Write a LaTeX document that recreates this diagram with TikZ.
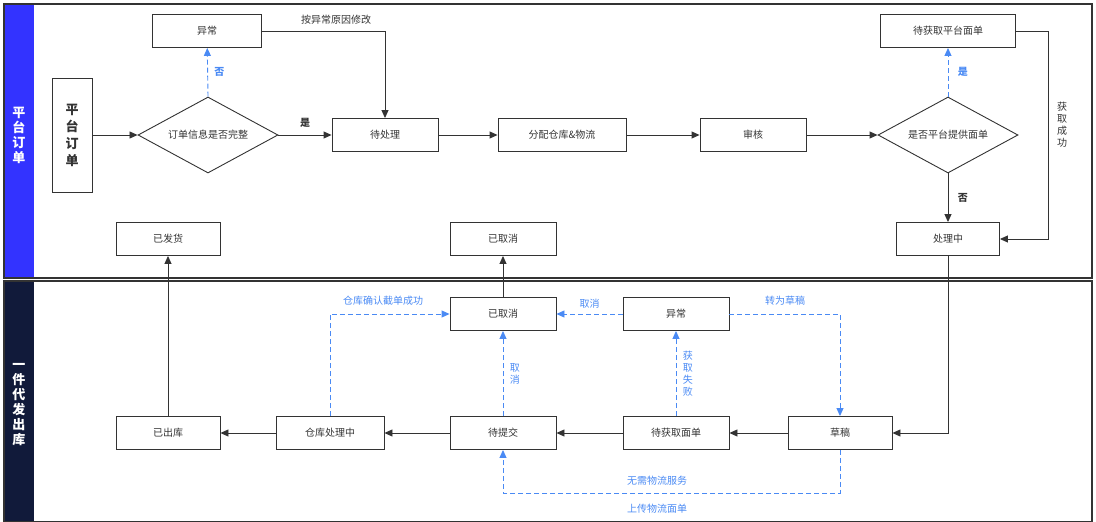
\documentclass[tikz,border=0pt]{standalone}
\usepackage{fontspec}
\setmainfont{Noto Sans CJK SC}
\usetikzlibrary{shapes.geometric,arrows.meta}
\definecolor{bl}{HTML}{4A8AF4}
\definecolor{lane1}{HTML}{3333FF}
\definecolor{lane2}{HTML}{111A3A}
\definecolor{tx}{HTML}{333333}
\begin{document}
\begin{tikzpicture}[x=1pt,y=-1pt,font=\fontsize{10}{12}\selectfont,
  box/.style={draw=tx,line width=0.9pt,minimum height=33pt,text=tx,inner sep=1pt},
  dia/.style={draw=tx,line width=0.9pt,diamond,aspect=1.8,minimum width=140pt,minimum height=76pt,inner sep=0pt,text=tx},
  ar/.style={draw=tx,line width=0.9pt,-{Triangle[length=8pt,width=7pt]}},
  da/.style={draw=bl,line width=0.9pt,dash pattern=on 5pt off 3pt,-{Triangle[length=8pt,width=7pt]},bl},
  bt/.style={text=bl},
  vt/.style={align=center,font=\fontsize{10}{12}\selectfont}]
\useasboundingbox (0,0) rectangle (1096,522);
% lanes
\draw[line width=1.5pt,draw=tx] (4,4) rectangle (1092,278);
\draw[line width=1.5pt,draw=tx] (4,281) rectangle (1092,522);
\fill[lane1] (5,5) rectangle (34,277);
\fill[lane2] (5,282) rectangle (34,521);
\node[text=white,font=\fontsize{13}{15}\selectfont\bfseries,align=center] (l1) at (19,135) {平\\台\\订\\单};
\node[text=white,font=\fontsize{13}{15}\selectfont\bfseries,align=center] (l2) at (19,405) {一\\件\\代\\发\\出\\库};
% nodes
\node[box,minimum width=40pt,minimum height=114pt,align=center,font=\fontsize{13}{17}\selectfont\bfseries] (po) at (72,135) {平\\台\\订\\单};
\node[dia] (d1) at (208,135) {订单信息是否完整};
\node[box,minimum width=109pt] (yc1) at (207,31) {异常};
\node[box,minimum width=106pt] (dcl) at (385,135) {待处理};
\node[box,minimum width=128pt] (fp) at (562,135) {分配仓库\&物流};
\node[box,minimum width=106pt] (sh) at (753,135) {审核};
\node[dia] (d2) at (948,135) {是否平台提供面单};
\node[box,minimum width=135pt] (dhq) at (948,31) {待获取平台面单};
\node[box,minimum width=103pt] (clz) at (948,239) {处理中};
\node[box,minimum width=106pt] (yqx1) at (503,239) {已取消};
\node[box,minimum width=104pt] (yfh) at (168,239) {已发货};
\node[box,minimum width=104pt] (yck) at (168,433) {已出库};
\node[box,minimum width=108pt] (ck) at (330,433) {仓库处理中};
\node[box,minimum width=106pt] (dtj) at (503,433) {待提交};
\node[box,minimum width=106pt] (dmd) at (676,433) {待获取面单};
\node[box,minimum width=104pt] (cg) at (840,433) {草稿};
\node[box,minimum width=106pt] (yqx2) at (503,314) {已取消};
\node[box,minimum width=106pt] (yc2) at (676,314) {异常};
\coordinate (c1) at (385,31);
\coordinate (c2) at (1048,31);
\coordinate (c3) at (1048,239);
\coordinate (c4) at (948,433);
\coordinate (c5) at (840,314);
\coordinate (c6) at (330,314);
\coordinate (c7) at (840,493);
\coordinate (c8) at (503,493);
% top edges
\draw[ar] (po) -- (d1);
\draw[ar] (d1) -- node[above=4pt,font=\fontsize{10}{12}\selectfont\bfseries,text=tx]{是} (dcl);
\draw[da] (d1.north) -- node[right=3pt,font=\fontsize{10}{12}\selectfont\bfseries]{否} (yc1);
\draw[ar] (yc1.east) -- (c1) -- (dcl.north);
\node[text=tx] (t1) at (336,20) {按异常原因修改};
\draw[ar] (dcl) -- (fp);
\draw[ar] (fp) -- (sh);
\draw[ar] (sh) -- (d2);
\draw[da] (d2.north) -- node[right=6pt,font=\fontsize{10}{12}\selectfont\bfseries]{是} (dhq);
\draw[ar] (dhq.east) -- (c2) -- (c3) -- (clz.east);
\node[vt,text=tx] (t2) at (1062,125) {获\\取\\成\\功};
\draw[ar] (d2.south) -- node[right=6pt,font=\fontsize{10}{12}\selectfont\bfseries,text=tx]{否} (clz);
% bottom edges
\draw[ar] (clz.south) -- (c4) -- (cg.east);
\draw[ar] (cg) -- (dmd);
\draw[ar] (dmd) -- (dtj);
\draw[ar] (dtj) -- (ck);
\draw[ar] (ck) -- (yck);
\draw[ar] (yck) -- (yfh);
\draw[ar] (yqx2) -- (yqx1);
\draw[da] (dtj) -- node[right=3pt,vt,text=bl]{取\\消} (yqx2);
\draw[da] (dmd) -- node[right=3pt,vt,text=bl]{获\\取\\失\\败} (yc2);
\draw[da] (yc2) -- node[above=2pt,bt]{取消} (yqx2);
\draw[da] (yc2.east) -- (c5) -- (cg.north);
\node[bt] (t3) at (785,301) {转为草稿};
\draw[da] (ck.north) -- (c6) -- (yqx2.west);
\node[bt] (t4) at (383,301) {仓库确认截单成功};
\draw[da] (cg.south) -- (c7) -- (c8) -- (dtj.south);
\node[bt] (t5) at (657,481) {无需物流服务};
\node[bt] (t6) at (657,509) {上传物流面单};
\end{tikzpicture}
\end{document}
